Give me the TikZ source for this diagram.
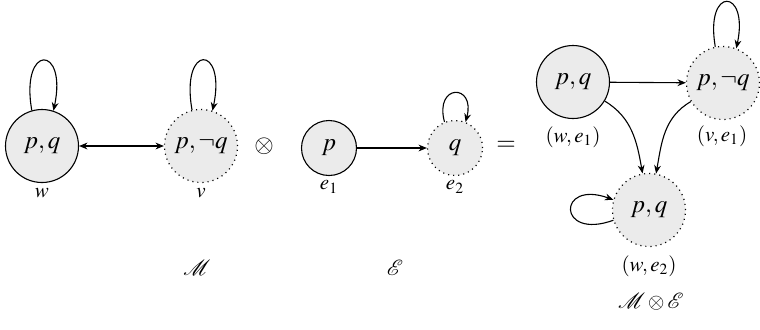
\documentclass[tikz,border=0pt]{standalone}
\usepackage{mathptmx}
\usepackage{mathrsfs}
\usetikzlibrary{arrows.meta}
\definecolor{nodefill}{HTML}{EBEBEB}
\begin{document}
\begin{tikzpicture}[x=0.5pt,y=0.5pt,
 st/.style={circle,draw,fill=nodefill,line width=0.55pt,inner sep=0pt,font=\fontsize{12.5}{15}\selectfont},
 big/.style={st,minimum size=36.5pt},
 small/.style={st,minimum size=27.5pt},
 dotb/.style={dotted,line width=0.6pt},
 lab/.style={inner sep=0pt,font=\fontsize{10.5}{12}\selectfont},
 sym/.style={inner sep=0pt,font=\fontsize{12.5}{15}\selectfont},
 arr/.style={-{Stealth[length=4.2pt,width=3.4pt]},line width=0.55pt},
 darr/.style={{Stealth[length=4.2pt,width=3.4pt]}-{Stealth[length=4.2pt,width=3.4pt]},line width=0.55pt},
]
\useasboundingbox (0,0) rectangle (760,-329);
% M
\node[big] (w) at (42,-146) {$p,q$};
\node[big,dotb] (v) at (201,-146) {$p,\neg q$};
\node[lab] (wl) at (42,-193) {$w$};
\node[lab] (vl) at (201,-193) {$v$};
\draw[arr] (w.106) .. controls +(100:34pt) and +(78:34pt) .. (w.72);
\draw[arr] (v.104) .. controls +(100:34pt) and +(78:34pt) .. (v.72);
\draw[darr] (w) -- (v);
\node[lab] (Ml) at (197,-268) {$\mathscr{M}$};
% otimes
\node[sym] (ot) at (264,-146) {$\otimes$};
% E
\node[small] (e1) at (329,-148) {$p$};
\node[small,dotb] (e2) at (455,-148) {$q$};
\node[lab] (e1l) at (329,-187) {$e_1$};
\node[lab] (e2l) at (455,-187) {$e_2$};
\draw[arr] (e1) -- (e2);
\draw[arr] (e2.112) .. controls +(105:20pt) and +(75:20pt) .. (e2.68);
\node[lab] (El) at (395,-268) {$\mathscr{E}$};
% equals
\node[sym] (eq) at (506,-146) {$=$};
% product
\node[big] (we1) at (573,-82) {$p,q$};
\node[big,dotb] (ve1) at (723,-83) {$p,\neg q$};
\node[big,dotb] (we2) at (649,-210) {$p,q$};
\node[lab] (we1l) at (573,-137) {$(w,e_1)$};
\node[lab] (ve1l) at (722,-136) {$(v,e_1)$};
\node[lab] (we2l) at (649,-266) {$(w,e_2)$};
\draw[arr] (we1) -- (ve1);
\draw[arr] (ve1.102) .. controls +(100:31pt) and +(78:31pt) .. (ve1.69);
\draw[arr] (we2.196) .. controls +(200:30pt) and +(160:30pt) .. (we2.164);
\draw[arr] (we1.-31) to[out=-31,in=100] (we2.100);
\draw[arr] (ve1.210) to[out=210,in=80] (we2.79);
\node[lab] (Pl) at (651,-302) {$\mathscr{M}\otimes\mathscr{E}$};
\end{tikzpicture}
\end{document}
